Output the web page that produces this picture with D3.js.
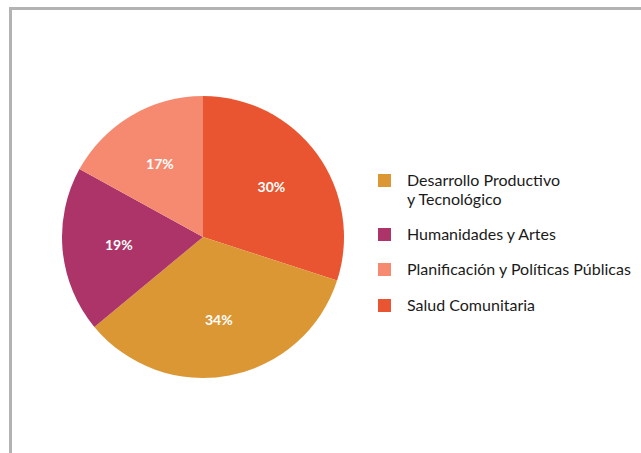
<!DOCTYPE html>
<html><head><meta charset="utf-8">
<script src="https://cdn.jsdelivr.net/npm/d3@7"></script>
<style>body{margin:0;background:#fff;}svg{display:block;}</style>
</head><body>
<svg id="c" width="641" height="453"></svg>
<script>
const sliceOrder = ["Salud Comunitaria","Desarrollo Productivo y Tecnológico","Humanidades y Artes","Planificación y Políticas Públicas"];
const sliceValues = [30,34,19,17];
const legendCategories = ["Desarrollo Productivo y Tecnológico","Humanidades y Artes","Planificación y Políticas Públicas","Salud Comunitaria"];
const legendLines = [["Desarrollo Productivo","y Tecnológico"],["Humanidades y Artes"],["Planificación y Políticas Públicas"],["Salud Comunitaria"]];
const colors = ["#DC9735","#AD3468","#F68A70","#E85530"];

const svg = d3.select("#c");
// frame
svg.append("path").attr("d","M10.5,453 L10.5,8.5 L641,8.5").attr("fill","none").attr("stroke","#b3b3b3").attr("stroke-width",3);

const color = d3.scaleOrdinal().domain(legendCategories).range(colors);
const cx=203, cy=237, R=141;
const data = sliceOrder.map((k,i)=>({k, v:sliceValues[i]}));
const pie = d3.pie().value(d=>d.v).sort(null);
const arc = d3.arc().innerRadius(0).outerRadius(R);
const labArc = d3.arc().innerRadius(R*0.6).outerRadius(R*0.6);
const g = svg.append("g").attr("transform",`translate(${cx},${cy})`);
const arcs = pie(data);
g.selectAll("path.s").data(arcs).join("path").attr("class","s").attr("d",arc).attr("fill",d=>color(d.data.k));
g.selectAll("text").data(arcs).join("text")
  .attr("transform",d=>`translate(${labArc.centroid(d)})`)
  .attr("text-anchor","middle").attr("dy","0.35em")
  .attr("fill","#fff").attr("font-family","Lato, sans-serif").attr("font-weight","bold").attr("font-size",14)
  .text(d=>d.data.v+"%");

// legend
const lineH = 19.3, gap = 35.2;
const lg = svg.append("g");
let y = 185.6;
legendCategories.forEach((k,i)=>{
  lg.append("rect").attr("x",378).attr("y",Math.round(y)-12).attr("width",13).attr("height",13).attr("fill",color(k));
  legendLines[i].forEach((ln,j)=>{
    lg.append("text").attr("x",407).attr("y",y + j*lineH).attr("fill","#1a1a1a")
      .attr("font-family","Lato, sans-serif").attr("font-size",16).text(ln);
  });
  y += (legendLines[i].length-1)*lineH + gap;
});
</script>
</body></html>
